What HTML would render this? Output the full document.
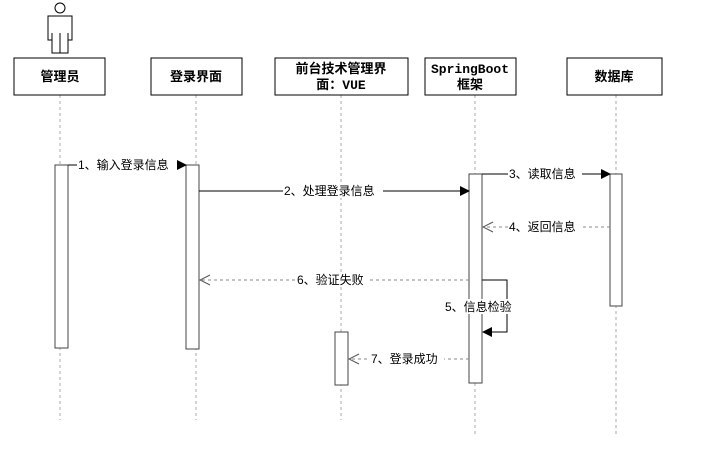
<!DOCTYPE html>
<html><head><meta charset="utf-8"><style>
body{margin:0;background:#fff}
text{font-family:"Liberation Sans","Noto Sans CJK SC",sans-serif;font-size:12px;fill:#000}
.h{font-family:"Liberation Mono","Noto Sans CJK SC",monospace;font-weight:bold;font-size:13px}
</style></head><body>
<svg width="702" height="456" xmlns="http://www.w3.org/2000/svg">
<defs>
<marker id="f" markerWidth="10" markerHeight="10" refX="9" refY="5" orient="auto" markerUnits="userSpaceOnUse"><path d="M0,0 L10,5 L0,10z" fill="#000"/></marker>
<marker id="o" markerWidth="12" markerHeight="12" refX="11" refY="6" orient="auto" markerUnits="userSpaceOnUse"><path d="M1,1 L11,6 L1,11" fill="none" stroke="#555"/></marker>
</defs>
<g stroke="#aaa" stroke-dasharray="3,3" stroke-width="1">
<line x1="60" y1="95" x2="60" y2="420"/>
<line x1="196" y1="95" x2="196" y2="420"/>
<line x1="341" y1="95" x2="341" y2="420"/>
<line x1="475" y1="95" x2="475" y2="435"/>
<line x1="616" y1="95" x2="616" y2="435"/>
</g>
<g fill="#fff" stroke="#000">
<circle cx="60" cy="8" r="5"/>
<path d="M48,16 H72 V40 H68 V53 H52 V40 H48 Z"/>
<line x1="60" y1="33" x2="60" y2="53"/><line x1="52" y1="33" x2="52" y2="40"/><line x1="68" y1="33" x2="68" y2="40"/>
<rect x="14" y="58" width="91" height="37"/>
<rect x="151" y="58" width="91" height="37"/>
<rect x="275" y="58" width="133" height="37"/>
<rect x="425" y="58" width="91" height="37"/>
<rect x="567" y="58" width="95" height="37"/>
</g>
<text class="h" x="60" y="81" text-anchor="middle">管理员</text>
<text class="h" x="196" y="81" text-anchor="middle">登录界面</text>
<text class="h" x="341" y="73" text-anchor="middle">前台技术管理界</text>
<text class="h" x="341" y="89" text-anchor="middle">面：VUE</text>
<text class="h" x="470" y="73" text-anchor="middle">SpringBoot</text>
<text class="h" x="470" y="89" text-anchor="middle">框架</text>
<text class="h" x="614" y="81" text-anchor="middle">数据库</text>
<g fill="#fff" stroke="#444">
<rect x="55" y="165" width="13" height="183"/>
<rect x="186" y="165" width="13" height="184"/>
<rect x="335" y="332" width="13" height="53"/>
<rect x="469" y="174" width="13" height="209"/>
<rect x="610" y="174" width="12" height="132"/>
</g>
<g stroke="#000" fill="none">
<line x1="68" y1="165" x2="186" y2="165" marker-end="url(#f)"/>
<line x1="199" y1="191" x2="469" y2="191" marker-end="url(#f)"/>
<line x1="482" y1="174" x2="610" y2="174" marker-end="url(#f)"/>
<polyline points="482,280 507,280 507,332 483,332" marker-end="url(#f)"/>
</g>
<g stroke="#888" stroke-dasharray="3,3" fill="none">
<line x1="610" y1="227" x2="483" y2="227" marker-end="url(#o)"/>
<line x1="469" y1="280" x2="200" y2="280" marker-end="url(#o)"/>
<line x1="469" y1="359" x2="349" y2="359" marker-end="url(#o)"/>
</g>
<g fill="#fff">
<rect x="77" y="158" width="100" height="14"/>
<rect x="283" y="184" width="100" height="14"/>
<rect x="508" y="167" width="74" height="14"/>
<rect x="508" y="220" width="74" height="14"/>
<rect x="296" y="273" width="74" height="14"/>
<rect x="444" y="299" width="76" height="15"/>
<rect x="370" y="352" width="74" height="14"/>
</g>
<text x="78" y="169">1、输入登录信息</text>
<text x="284" y="195">2、处理登录信息</text>
<text x="509" y="178">3、读取信息</text>
<text x="509" y="231">4、返回信息</text>
<text x="297" y="284">6、验证失败</text>
<text x="445" y="311">5、信息检验</text>
<text x="371" y="363">7、登录成功</text>
</svg>
</body></html>
